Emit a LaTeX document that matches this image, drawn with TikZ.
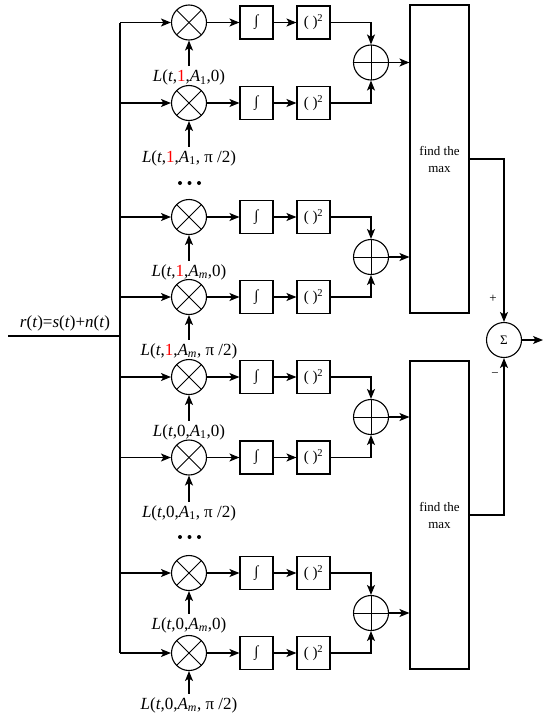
\documentclass[tikz,border=0pt]{standalone}
\usepackage{fontspec}
\setmainfont{Liberation Serif}
\usetikzlibrary{arrows.meta}
\begin{document}
\begin{tikzpicture}[x=1pt,y=-1pt,line width=1.1pt,
  arr/.style={-{Stealth[length=10pt,width=8pt,inset=2.5pt]}},
  mult/.style={circle,draw,minimum size=35pt,inner sep=0pt,
    path picture={\draw[line width=1pt] (path picture bounding box.center) ++(45:17.5pt) -- ++(225:35pt);
                  \draw[line width=1pt] (path picture bounding box.center) ++(135:17.5pt) -- ++(-45:35pt);}},
  adder/.style={circle,draw,minimum size=35pt,inner sep=0pt,
    path picture={\draw[line width=1pt] (path picture bounding box.north) -- (path picture bounding box.south);
                  \draw[line width=1pt] (path picture bounding box.west) -- (path picture bounding box.east);}},
  blk/.style={draw,minimum size=33pt,inner sep=0pt,font=\fontsize{15}{18}\selectfont},
  fmbox/.style={draw,minimum width=59pt,minimum height=308pt,inner sep=0pt,align=center,
    font=\fontsize{13}{17}\selectfont},
  lab/.style={font=\fontsize{17}{20}\selectfont,inner sep=0pt,anchor=base},
  sgn/.style={font=\fontsize{13}{15}\selectfont,inner sep=0pt}
]
\useasboundingbox (0,0) rectangle (550,720);

% rows
\foreach \i/\y in {1/22.5,2/103,3/217,4/297,5/377,6/457.5,7/573,8/653}{
  \coordinate (b\i) at (120,\y);
  \node[mult] (m\i) at (189,\y) {};
  \node[blk] (int\i) at (256.5,\y) {∫};
  \node[blk] (sq\i) at (313.5,\y) {(~)\textsuperscript{2}};
  \draw[arr] (b\i) -- (m\i);
  \draw[arr] (m\i) -- (int\i);
  \draw[arr] (int\i) -- (sq\i);
}

% bus and input
\draw (b1) -- (b8);
\coordinate (rin) at (8,336);
\coordinate (bin) at (120,336);
\draw (rin) -- (bin);
\node[font=\fontsize{17}{20}\selectfont,inner sep=0pt] (rl) at (65,323)
  {\textit{r}(\textit{t})=\textit{s}(\textit{t})+\textit{n}(\textit{t})};

% local oscillator labels
\node[lab] (l1) at (189,81.5) {\textit{L}(\textit{t},\textcolor{red}{1},\textit{A}\textsubscript{1},0)};
\node[lab] (l2) at (189,162) {\textit{L}(\textit{t},\textcolor{red}{1},\textit{A}\textsubscript{1}, π /2)};
\node[lab] (l3) at (189,276) {\textit{L}(\textit{t},\textcolor{red}{1},\textit{A}\textsubscript{\textit{m}},0)};
\node[lab] (l4) at (189,355) {\textit{L}(\textit{t},\textcolor{red}{1},\textit{A}\textsubscript{\textit{m}}, π /2)};
\node[lab] (l5) at (189,436) {\textit{L}(\textit{t},0,\textit{A}\textsubscript{1},0)};
\node[lab] (l6) at (189,517) {\textit{L}(\textit{t},0,\textit{A}\textsubscript{1}, π /2)};
\node[lab] (l7) at (189,629) {\textit{L}(\textit{t},0,\textit{A}\textsubscript{\textit{m}},0)};
\node[lab] (l8) at (189,709) {\textit{L}(\textit{t},0,\textit{A}\textsubscript{\textit{m}}, π /2)};
\foreach \i in {1,...,8}{
  \draw[arr] ([yshift=3pt]l\i.north) -- (m\i.south);
}

% dots
\foreach \yy in {183,537}{
  \foreach \xx in {180,189.5,199}{
    \fill (\xx,\yy) circle (2pt);
  }
}

% adders
\node[adder] (a1) at (371,62.5) {};
\node[adder] (a2) at (371,257) {};
\node[adder] (a3) at (371,417) {};
\node[adder] (a4) at (371,613) {};
\draw[arr] (sq1.east) -| (a1.north);
\draw[arr] (sq2.east) -| (a1.south);
\draw[arr] (sq3.east) -| (a2.north);
\draw[arr] (sq4.east) -| (a2.south);
\draw[arr] (sq5.east) -| (a3.north);
\draw[arr] (sq6.east) -| (a3.south);
\draw[arr] (sq7.east) -| (a4.north);
\draw[arr] (sq8.east) -| (a4.south);

% find the max boxes
\node[fmbox] (fm1) at (439.5,159) {find the\\max};
\node[fmbox] (fm2) at (439.5,515) {find the\\max};
\draw[arr] (a1.east) -- (a1 -| fm1.west);
\draw[arr] (a2.east) -- (a2 -| fm1.west);
\draw[arr] (a3.east) -- (a3 -| fm2.west);
\draw[arr] (a4.east) -- (a4 -| fm2.west);

% summation
\node[circle,draw,minimum size=35pt,inner sep=0pt,font=\fontsize{13}{15}\selectfont] (s) at (504,340) {Σ};
\draw[arr] (fm1.east) -| (s.north);
\draw[arr] (fm2.east) -| (s.south);
\coordinate (out) at (543,340);
\draw[arr] (s.east) -- (out);
\node[sgn] (plus) at (493,299) {+};
\node[sgn] (minus) at (495,375) {−};
\end{tikzpicture}
\end{document}
